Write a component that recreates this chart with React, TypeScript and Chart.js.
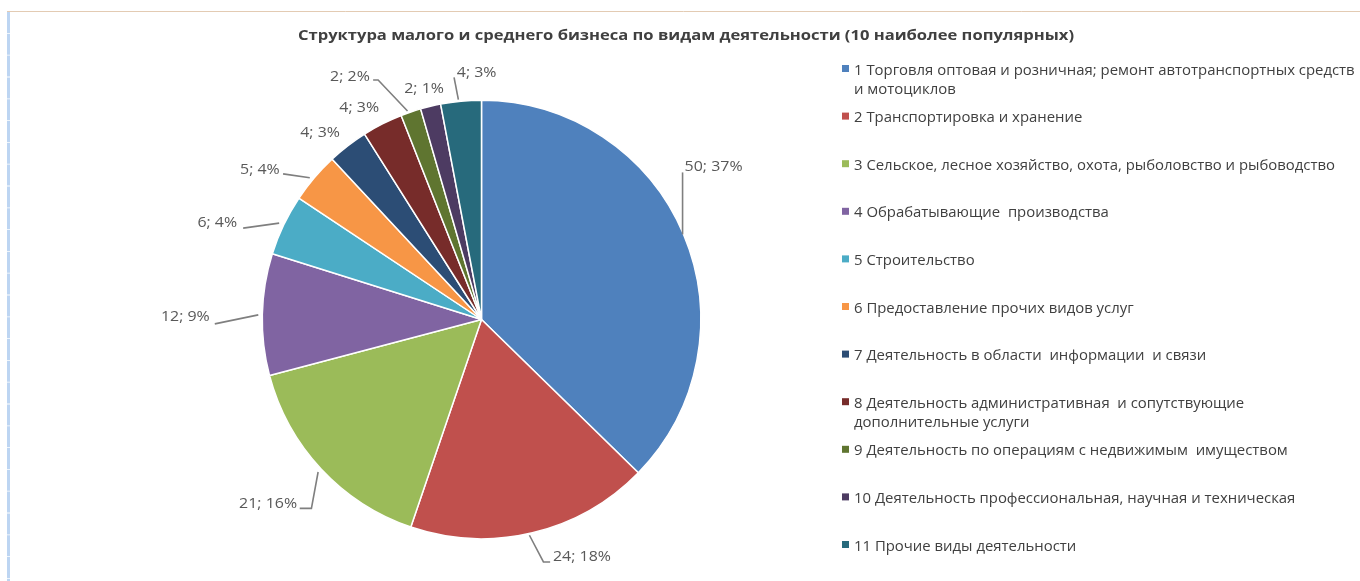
import React, { useEffect, useRef } from "react";
import { Chart, registerables } from "chart.js";

Chart.register(...registerables);

const TITLE =
  "Структура малого и среднего бизнеса по видам деятельности (10 наиболее популярных)";

const CATEGORIES = [
  "1 Торговля оптовая и розничная; ремонт автотранспортных средств и мотоциклов",
  "2 Транспортировка и хранение",
  "3 Сельское, лесное хозяйство, охота, рыболовство и рыбоводство",
  "4 Обрабатывающие производства",
  "5 Строительство",
  "6 Предоставление прочих видов услуг",
  "7 Деятельность в области информации и связи",
  "8 Деятельность административная и сопутствующие дополнительные услуги",
  "9 Деятельность по операциям с недвижимым имуществом",
  "10 Деятельность профессиональная, научная и техническая",
  "11 Прочие виды деятельности",
];

// legend text as it is wrapped in the picture
const LEGEND_LINES = [
  ["1 Торговля оптовая и розничная; ремонт автотранспортных средств", "и мотоциклов"],
  ["2 Транспортировка и хранение"],
  ["3 Сельское, лесное хозяйство, охота, рыболовство и рыбоводство"],
  ["4 Обрабатывающие  производства"],
  ["5 Строительство"],
  ["6 Предоставление прочих видов услуг"],
  ["7 Деятельность в области  информации  и связи"],
  ["8 Деятельность административная  и сопутствующие", "дополнительные услуги"],
  ["9 Деятельность по операциям с недвижимым  имуществом"],
  ["10 Деятельность профессиональная, научная и техническая"],
  ["11 Прочие виды деятельности"],
];

const VALUES = [50, 24, 21, 12, 6, 5, 4, 4, 2, 2, 4];
const PERCENTS = [37, 18, 16, 9, 4, 4, 3, 3, 2, 1, 3];

const COLORS = [
  "#4F81BD",
  "#C0504D",
  "#9BBB59",
  "#8064A2",
  "#4BACC6",
  "#F79646",
  "#2C4D75",
  "#772C2A",
  "#5F7530",
  "#4D3B62",
  "#276A7C",
];

const FONT = '"Open Sans", "Liberation Sans", sans-serif';

// label placement relative to the outer edge point at each slice's mid angle
type LabelLayout = { line: number[][]; text: number[]; align: CanvasTextAlign };
const LABEL_LAYOUT: LabelLayout[] = [
  { line: [[-1, 0], [-1, -62]], text: [1, -68], align: "left" },
  { line: [[-3, 2.5], [11, 29.2], [17.7, 29.2]], text: [20.5, 24.2], align: "left" },
  { line: [[-3, 3], [-9.7, 39.4], [-21.4, 39.4]], text: [-24, 34.5], align: "right" },
  { line: [[-4, 0.5], [-47.5, 9.5]], text: [-52.5, 2.8], align: "right" },
  { line: [[-4.5, -1.9], [-40.5, 3.1]], text: [-46.5, -2.5], align: "right" },
  { line: [[-4.5, 0], [-31.2, -3.8]], text: [-34.5, -7.8], align: "right" },
  { line: [], text: [-27.6, -12.7], align: "center" },
  { line: [], text: [-23.2, -15.8], align: "center" },
  { line: [[-3.3, -1], [-32.7, -32], [-37.7, -32]], text: [-41, -35.3], align: "right" },
  { line: [], text: [-6.5, -17.2], align: "center" },
  { line: [[-2.6, -1.5], [-6.9, -23.8]], text: [-4.2, -28.2], align: "left" },
];

function scaledText(
  ctx: CanvasRenderingContext2D,
  text: string,
  x: number,
  y: number,
  align: CanvasTextAlign,
  sx: number
) {
  ctx.save();
  ctx.translate(x, y);
  ctx.scale(sx, 1);
  ctx.textAlign = align;
  ctx.textBaseline = "middle";
  ctx.fillText(text, 0, 0);
  ctx.restore();
}

const decorPlugin = {
  id: "decor",
  afterDraw(chart: any) {
    const ctx: CanvasRenderingContext2D = chart.ctx;
    const W = chart.width;
    const H = chart.height;

    // frame lines
    ctx.save();
    ctx.strokeStyle = "#E3CBB3";
    ctx.lineWidth = 1;
    ctx.beginPath();
    ctx.moveTo(7, 11.5);
    ctx.lineTo(W, 11.5);
    ctx.stroke();
    ctx.strokeStyle = "#BDD5F2";
    ctx.lineWidth = 3;
    ctx.setLineDash([21, 0.8]);
    ctx.beginPath();
    ctx.moveTo(8.5, 12);
    ctx.lineTo(8.5, H);
    ctx.stroke();
    ctx.restore();

    // title
    ctx.save();
    ctx.fillStyle = "#404040";
    ctx.font = `bold 15px ${FONT}`;
    const tw = ctx.measureText(TITLE).width;
    const tsx = 776 / tw;
    scaledText(ctx, TITLE, 686, 36, "center", tsx);
    ctx.restore();

    // data labels
    const meta = chart.getDatasetMeta(0);
    ctx.save();
    ctx.font = `14.5px ${FONT}`;
    const lsx = 58 / ctx.measureText("50; 37%").width;
    meta.data.forEach((arc: any, i: number) => {
      const p = arc.getProps(["x", "y", "startAngle", "endAngle", "outerRadius"], true);
      const mid = (p.startAngle + p.endAngle) / 2;
      const ex = p.x + Math.cos(mid) * p.outerRadius;
      const ey = p.y + Math.sin(mid) * p.outerRadius;
      const lay = LABEL_LAYOUT[i];
      if (lay.line.length > 1) {
        ctx.strokeStyle = "#7F7F7F";
        ctx.lineWidth = 1.6;
        ctx.beginPath();
        lay.line.forEach((pt, k) => {
          if (k === 0) ctx.moveTo(ex + pt[0], ey + pt[1]);
          else ctx.lineTo(ex + pt[0], ey + pt[1]);
        });
        ctx.stroke();
      }
      ctx.fillStyle = "#595959";
      const txt = `${VALUES[i]}; ${PERCENTS[i]}%`;
      scaledText(ctx, txt, ex + lay.text[0], ey + lay.text[1], lay.align, lsx);
    });
    ctx.restore();

    // legend
    ctx.save();
    ctx.font = `14.5px ${FONT}`;
    const gsx = 481 / ctx.measureText(LEGEND_LINES[2][0]).width;
    const top = 70.5;
    const step = 47.6;
    const lineH = 19.5;
    LEGEND_LINES.forEach((lines, i) => {
      const y = top + i * step;
      ctx.fillStyle = COLORS[i];
      ctx.fillRect(842, y - 5.5, 7, 7);
      ctx.fillStyle = "#404040";
      lines.forEach((ln, k) => {
        scaledText(ctx, ln, 854, y + k * lineH, "left", gsx);
      });
    });
    ctx.restore();
  },
};

export default function App() {
  const ref = useRef<HTMLCanvasElement | null>(null);

  useEffect(() => {
    if (!ref.current) return;
    const chart = new Chart(ref.current, {
      type: "pie",
      data: {
        labels: CATEGORIES,
        datasets: [
          {
            data: VALUES,
            backgroundColor: COLORS,
            borderColor: "#FFFFFF",
            borderWidth: 1.5,
          },
        ],
      },
      options: {
        responsive: false,
        maintainAspectRatio: false,
        animation: false,
        layout: {
          padding: { left: 261.5, right: 658.5, top: 99.5, bottom: 41.5 },
        },
        plugins: {
          legend: { display: false },
          tooltip: { enabled: false },
          title: { display: false },
        },
      },
      plugins: [decorPlugin],
    });
    return () => chart.destroy();
  }, []);

  return (
    <div style={{ position: "fixed", left: 0, top: 0, width: 1360, height: 581, background: "#fff" }}>
      <canvas ref={ref} width={1360} height={581} style={{ display: "block" }} />
    </div>
  );
}
